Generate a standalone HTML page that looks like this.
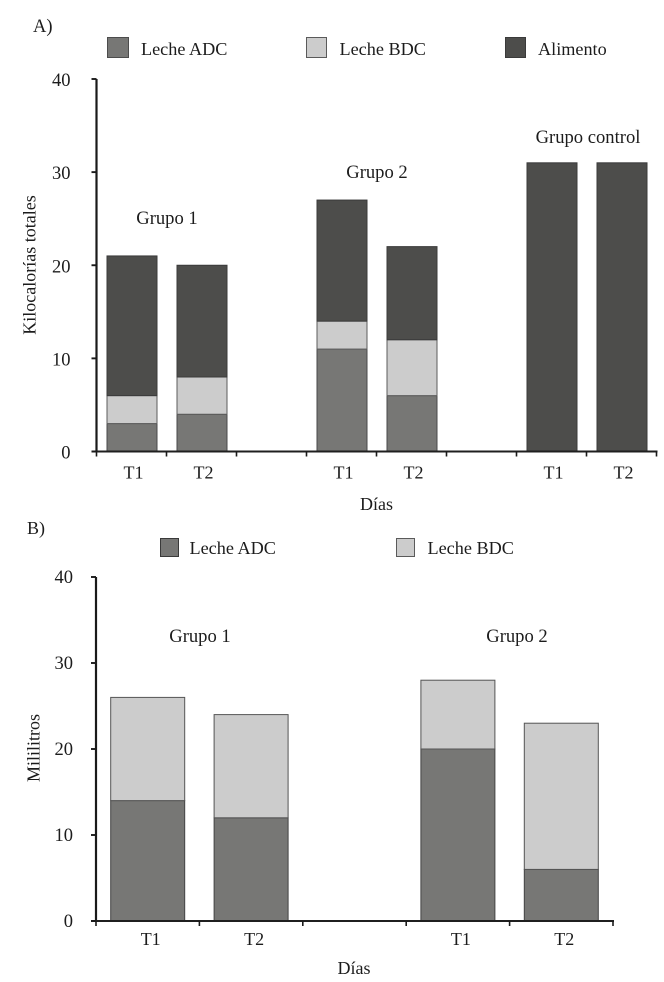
<!DOCTYPE html>
<html lang="es">
<head>
<meta charset="utf-8">
<title>Kilocalorías y mililitros por grupo</title>
<style>
html,body{margin:0;padding:0;background:#fff;}
svg{display:block;}
text{font-family:"Liberation Serif",serif;fill:#1c1c1c;}
</style>
</head>
<body>
<svg id="root" xmlns="http://www.w3.org/2000/svg" width="664" height="982" viewBox="0 0 664 982">
  <text x="33" y="32" font-size="18.5">A)</text>
  <text x="27" y="534" font-size="18">B)</text>

  <rect x="107.5" y="37.5" width="21" height="20" fill="#777775" stroke="#4c4c4c"/>
  <text x="141" y="55" font-size="18.2">Leche ADC</text>
  <rect x="306.5" y="37.5" width="20" height="20" fill="#cccccc" stroke="#5a5a5a"/>
  <text x="339.5" y="55" font-size="18.2">Leche BDC</text>
  <rect x="505.5" y="37.5" width="20" height="20" fill="#4d4d4b" stroke="#3a3a3a"/>
  <text x="538" y="55" font-size="18.2">Alimento</text>

  <rect x="160.5" y="538.5" width="18" height="18" fill="#777775" stroke="#3a3a3a"/>
  <text x="189.5" y="554" font-size="18.2">Leche ADC</text>
  <rect x="396.5" y="538.5" width="18" height="18" fill="#cccccc" stroke="#5a5a5a"/>
  <text x="427.5" y="554" font-size="18.2">Leche BDC</text>

  <text transform="translate(35.5,265) rotate(-90)" text-anchor="middle" font-size="18">Kilocalorías totales</text>
  <text x="376.5" y="510" text-anchor="middle" font-size="18">Días</text>
  <text transform="translate(39.5,748) rotate(-90)" text-anchor="middle" font-size="18">Mililitros</text>
  <text x="354" y="974" text-anchor="middle" font-size="18">Días</text>

  <text x="167" y="224" text-anchor="middle" font-size="18.6">Grupo 1</text>
  <text x="377" y="178" text-anchor="middle" font-size="18.6">Grupo 2</text>
  <text x="588" y="143" text-anchor="middle" font-size="18.6">Grupo control</text>
  <text x="200" y="642" text-anchor="middle" font-size="18.6">Grupo 1</text>
  <text x="517" y="642" text-anchor="middle" font-size="18.6">Grupo 2</text>
</svg>
<script>
var categoriesA = ["T1", "T2", "", "T1", "T2", "", "T1", "T2"];
var adcA = [3, 4, 0, 11, 6, 0, 0, 0];
var bdcA = [3, 4, 0, 3, 6, 0, 0, 0];
var alimentoA = [15, 12, 0, 13, 10, 0, 31, 31];
var categoriesB = ["T1", "T2", "", "T1", "T2"];
var adcB = [14, 12, 0, 20, 6];
var bdcB = [12, 12, 0, 8, 17];
var yTicks = [0, 10, 20, 30, 40];

var NS = "http://www.w3.org/2000/svg";
var root = document.getElementById("root");

function make(tag, attrs, parent) {
  var el = document.createElementNS(NS, tag);
  for (var k in attrs) { el.setAttribute(k, attrs[k]); }
  parent.appendChild(el);
  return el;
}

function drawChart(cfg) {
  var n = cfg.categories.length;
  var step = (cfg.x1 - cfg.x0) / n;
  function xScale(i) { return cfg.x0 + step * i; }
  function yScale(v) { return cfg.y0 + (cfg.yTop - cfg.y0) * v / 40; }

  var g = make("g", {}, root);
  
  

  cfg.series.forEach(function (s) {
    s.values.forEach(function (v, i) {
      if (!v) { return; }
      var base = 0;
      cfg.series.forEach(function (o, oi) {
        if (oi < cfg.series.indexOf(s)) { base += o.values[i]; }
      });
      var rect = make("rect", {
        x: xScale(i) + (step - cfg.barWidth) / 2 + cfg.barShift + 0.5,
        y: yScale(base + v),
        width: cfg.barWidth,
        height: yScale(base) - yScale(base + v),
        fill: s.color,
        stroke: s.stroke,
        "stroke-width": 1
      }, g);
      
      
    });
  });

  var yAxis = make("line", { x1: cfg.x0, x2: cfg.x0, y1: cfg.yTop, y2: cfg.y0, stroke: "#1a1a1a", "stroke-width": 2.2 }, g);
  
  
  var xAxis = make("line", { x1: cfg.x0 - 5, x2: cfg.x1 + 1, y1: cfg.y0, y2: cfg.y0, stroke: "#1f1f1f", "stroke-width": 1.9 }, g);
  
  

  yTicks.forEach(function (t) {
    var y = yScale(t);
    var tick = make("line", { x1: cfg.x0 - 5, x2: cfg.x0, y1: y, y2: y, stroke: "#1a1a1a", "stroke-width": 1.9 }, g);
    
    
    var label = make("text", { x: cfg.x0 - cfg.yLabelGap, y: y + cfg.yLabelDrop, "text-anchor": "end", "font-size": 18.5 }, g);
    
    
    label.textContent = t;
  });

  for (var i = 0; i <= n; i++) {
    var tickX = make("line", { x1: xScale(i), x2: xScale(i), y1: cfg.y0, y2: cfg.y0 + 5, stroke: "#1a1a1a", "stroke-width": 1.6 }, g);
    
    
  }

  cfg.categories.forEach(function (c, i) {
    if (!c) { return; }
    var label = make("text", { x: xScale(i) + step / 2 + cfg.labelShift, y: cfg.y0 + cfg.labelDrop, "text-anchor": "middle", "font-size": 18 }, g);
    
    
    label.textContent = c;
  });
}

drawChart({
  name: "chart-a", categories: categoriesA,
  x0: 96.5, x1: 656.5, yTop: 79, y0: 451.5,
  barWidth: 50, barShift: 0, labelShift: 2, labelDrop: 27,
  yLabelGap: 26, yLabelDrop: 7,
  series: [
    { key: "adc", values: adcA, color: "#777775", stroke: "#4a4a4a" },
    { key: "bdc", values: bdcA, color: "#cccccc", stroke: "#5c5c5c" },
    { key: "alimento", values: alimentoA, color: "#4d4d4b", stroke: "#3a3a3a" }
  ]
});

drawChart({
  name: "chart-b", categories: categoriesB,
  x0: 96, x1: 613, yTop: 577, y0: 921,
  barWidth: 74, barShift: -0.5, labelShift: 3, labelDrop: 24,
  yLabelGap: 23, yLabelDrop: 6,
  series: [
    { key: "adc", values: adcB, color: "#777775", stroke: "#444444" },
    { key: "bdc", values: bdcB, color: "#cccccc", stroke: "#555555" }
  ]
});
</script>
</body>
</html>
